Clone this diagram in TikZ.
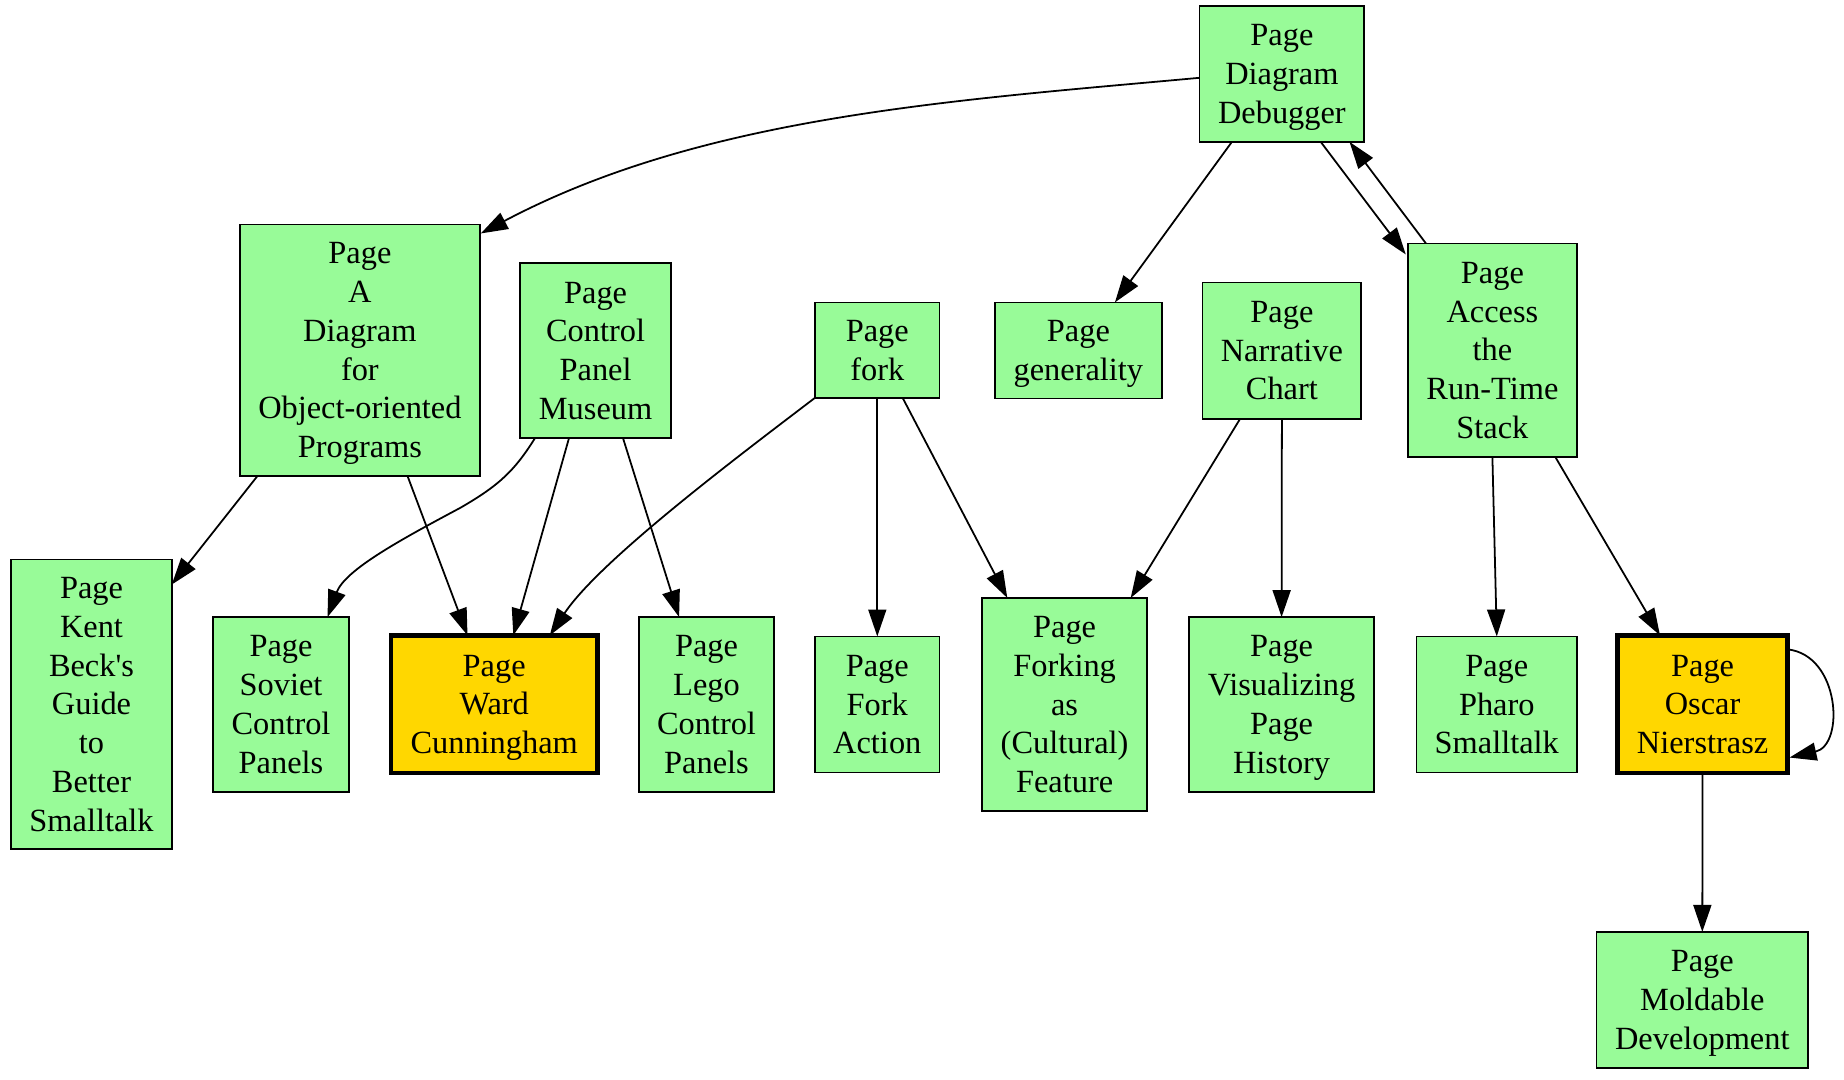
\documentclass[tikz,border=0pt]{standalone}
\usepackage{fontspec}
\setmainfont{Liberation Serif}[Ligatures=TeXOff]
\usetikzlibrary{arrows.meta,calc}
\definecolor{palegreen}{HTML}{98FB98}
\definecolor{gvgold}{HTML}{FFD700}
\begin{document}
\begin{tikzpicture}[x=0.423pt,y=-0.423pt,
  pg/.style={draw=black, fill=palegreen, line width=0.75pt, inner sep=0pt, outer sep=0pt, align=center,
    font=\fontsize{13.7}{16.4}\selectfont, text depth=0pt},
  hot/.style={pg, fill=gvgold, line width=1.9pt},
  sz/.style 2 args={minimum width=#1*0.423pt, minimum height=#2*0.423pt},
  lnk/.style={draw=black, line width=0.75pt, -{Triangle[length=11.4pt,width=7.6pt]}}
]
\fill[white] (0,0) rectangle (1844,1080);
\useasboundingbox (0,0) rectangle (1844,1080);

\node[pg, sz={164.7}{135.7}] (dd) at (1281.9,74) {Page\\Diagram\\Debugger};
\node[pg, sz={239.8}{251.5}] (adop) at (359.9,350.2) {Page\\A\\Diagram\\for\\Object-oriented\\Programs};
\node[pg, sz={150.5}{175}] (cpm) at (595.6,350.6) {Page\\Control\\Panel\\Museum};
\node[pg, sz={124.6}{95.4}] (fork) at (877.3,350.1) {Page\\fork};
\node[pg, sz={167}{96}] (gen) at (1078.4,350.4) {Page\\generality};
\node[pg, sz={158.7}{136.4}] (narr) at (1281.9,350.6) {Page\\Narrative\\Chart};
\node[pg, sz={169.3}{213.5}] (acc) at (1492.4,350.2) {Page\\Access\\the\\Run-Time\\Stack};
\node[pg, sz={160.5}{289.3}] (kent) at (91.5,704.2) {Page\\Kent\\Beck's\\Guide\\to\\Better\\Smalltalk};
\node[pg, sz={135.3}{174.6}] (sov) at (281,704.4) {Page\\Soviet\\Control\\Panels};
\node[hot, sz={206.4}{137.7}] (ward) at (494.2,704.2) {Page\\Ward\\Cunningham};
\node[pg, sz={134.6}{174.6}] (lego) at (706.5,704.4) {Page\\Lego\\Control\\Panels};
\node[pg, sz={124.6}{136.1}] (fact) at (877.3,704.5) {Page\\Fork\\Action};
\node[pg, sz={165.2}{213.1}] (fcf) at (1064.6,704.5) {Page\\Forking\\as\\(Cultural)\\Feature};
\node[pg, sz={185.2}{174.6}] (vis) at (1281.6,704.4) {Page\\Visualizing\\Page\\History};
\node[pg, sz={160.5}{136.1}] (pharo) at (1496.8,704.5) {Page\\Pharo\\Smalltalk};
\node[hot, sz={169.9}{137.7}] (oscar) at (1702.6,704.2) {Page\\Oscar\\Nierstrasz};
\node[pg, sz={211.7}{136}] (mold) at (1702.3,999.9) {Page\\Moldable\\Development};

\draw[lnk] ($(dd.west)+(0,3.8)$) .. controls (948.4,100.8) and (701.8,116.5) .. ($(adop.north east)+(1,9)$);
\draw[lnk] ($(dd.south)+(-50,0)$) -- ($(gen.north)+(36.5,0)$);
\draw[lnk] ($(dd.south)+(38.8,0)$) -- ($(acc.north west)+(-2,11)$);
\draw[lnk] ($(acc.north west)+(18.2,0)$) -- ($(dd.south)+(67.6,0)$);
\draw[lnk] ($(adop.south)+(-102.4,0)$) -- ($(kent.north east)+(0,25)$);
\draw[lnk] ($(adop.south)+(47.6,0)$) -- ($(ward.north)+(-26.7,0)$);
\draw[lnk] ($(cpm.south)+(-60.6,0)$) .. controls (515,470) and (500,485) .. (460,508) .. controls (400,540) and (345,570) .. ($(sov.north)+(46.5,0)$);
\draw[lnk] ($(cpm.south)+(-26.6,0)$) -- ($(ward.north)+(19.1,0)$);
\draw[lnk] ($(cpm.south)+(27.4,0)$) -- ($(lego.north)+(-27.4,0)$);
\draw[lnk] (fork.south west) .. controls (740,455) and (600,560) .. ($(ward.north)+(55.6,0)$);
\draw[lnk] (fork.south) -- (fact.north);
\draw[lnk] ($(fork.south)+(25.3,0)$) -- ($(fcf.north west)+(25.3,0)$);
\draw[lnk] ($(narr.south)+(-41.8,0)$) -- ($(fcf.north east)+(-16.5,0)$);
\draw[lnk] (narr.south) -- (vis.north);
\draw[lnk] (acc.south) -- (pharo.north);
\draw[lnk] ($(acc.south)+(62.9,0)$) -- ($(oscar.north)+(-42.6,0)$);
\draw[lnk] (oscar.south) -- (mold.north);
\draw[lnk] ($(oscar.north east)+(0,14)$) .. controls (1840,655) and (1845,745) .. ($(oscar.south east)+(2,-15.5)$);
\end{tikzpicture}
\end{document}
